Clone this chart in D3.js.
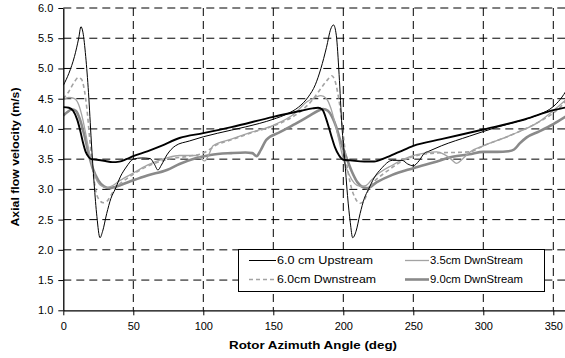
<!DOCTYPE html>
<html>
<head>
<meta charset="utf-8">
<script src="https://cdn.jsdelivr.net/npm/d3@7"></script>
<style>
  html, body { margin: 0; padding: 0; background: #fff; }
  svg { display: block; font-family: "Liberation Sans", Arial, sans-serif; }
</style>
</head>
<body>
<svg id="chart" width="565" height="358"></svg>
<script>
// Axial flow velocity vs rotor azimuth angle, several probe positions

const xTicks = [0, 50, 100, 150, 200, 250, 300, 350];
const yTicks = [1.0, 1.5, 2.0, 2.5, 3.0, 3.5, 4.0, 4.5, 5.0, 5.5, 6.0];

// 6.0 cm Upstream
const up60Deg = [0, 4, 8, 11, 12.6, 14, 16, 18, 20, 22, 24, 26.2, 28, 31, 34, 37, 41, 45, 50, 56, 62, 65, 67.6, 70, 74, 80, 90, 100, 120, 140, 150, 160, 168, 175, 180, 184, 188, 191, 193, 195, 197, 199, 201, 203, 205, 206.7, 209, 212, 215, 218, 222, 227, 235, 242, 246, 250, 254, 258, 261, 270, 290, 310, 330, 340, 350, 355, 360];
const up60Vel = [4.72, 4.92, 5.2, 5.5, 5.69, 5.6, 5.2, 4.6, 3.8, 3.1, 2.55, 2.2, 2.3, 2.6, 2.85, 3.0, 3.22, 3.37, 3.5, 3.52, 3.51, 3.42, 3.32, 3.4, 3.57, 3.72, 3.8, 3.87, 3.98, 4.09, 4.16, 4.25, 4.36, 4.53, 4.73, 5.0, 5.35, 5.65, 5.72, 5.55, 4.9, 4.05, 3.5, 2.9, 2.45, 2.2, 2.3, 2.6, 2.85, 3.0, 3.19, 3.34, 3.48, 3.48, 3.42, 3.39, 3.47, 3.6, 3.63, 3.72, 3.88, 4.03, 4.16, 4.24, 4.37, 4.49, 4.66];

// 6.0cm Dwnstream
const dn60Deg = [0, 4, 8, 10.7, 13, 15, 17, 19, 21, 23, 25, 28.6, 31, 34, 37, 42, 50, 60, 75, 90, 100, 110, 120, 135, 150, 160, 170, 178, 184, 189, 191.7, 194, 196, 198, 200, 202, 205, 208, 212, 215, 218, 223, 230, 247, 265, 290, 300, 320, 340, 350, 355, 360];
const dn60Vel = [4.5, 4.62, 4.78, 4.85, 4.82, 4.65, 4.3, 3.8, 3.35, 3.0, 2.85, 2.78, 2.8, 2.9, 3.02, 3.12, 3.25, 3.38, 3.5, 3.55, 3.6, 3.74, 3.82, 3.94, 4.05, 4.15, 4.3, 4.48, 4.67, 4.82, 4.88, 4.8, 4.6, 4.3, 3.9, 3.5, 3.1, 2.88, 2.77, 2.82, 3.0, 3.15, 3.28, 3.52, 3.6, 3.62, 3.72, 3.9, 4.12, 4.26, 4.36, 4.5];

// 3.5cm DwnStream
const dn35Deg = [0, 4, 8, 11, 14, 17, 20, 23, 27, 31, 35, 40, 50, 60, 74, 83, 95, 99, 101, 104, 107, 120, 135, 150, 165, 174, 180, 184, 188, 191, 194, 197, 200, 204, 208, 212, 216, 220, 224, 235, 247.6, 258, 266.7, 272, 277, 281, 285, 290.5, 300, 320, 340, 355, 360];
const dn35Vel = [4.48, 4.52, 4.5, 4.4, 4.15, 3.8, 3.45, 3.2, 3.06, 3.03, 3.06, 3.14, 3.27, 3.4, 3.52, 3.56, 3.56, 3.5, 3.47, 3.58, 3.72, 3.83, 3.95, 4.06, 4.25, 4.45, 4.52, 4.55, 4.5, 4.35, 4.1, 3.8, 3.5, 3.25, 3.1, 3.05, 3.06, 3.15, 3.24, 3.4, 3.54, 3.6, 3.62, 3.58, 3.5, 3.43, 3.5, 3.62, 3.72, 3.9, 4.12, 4.4, 4.5];

// 9.0cm DwnStream
const dn90Deg = [0, 3, 6, 9, 12, 15, 18, 21, 25, 29, 33, 37, 42, 50, 60, 74, 83, 95, 105, 120, 130, 135, 138, 141, 145, 155, 167, 176, 182, 185.7, 189, 192, 195, 198, 202, 206, 210, 213, 217, 224, 235, 250, 265, 278, 290, 300, 310, 318, 322, 326, 331, 340, 350, 360];
const dn90Vel = [4.22, 4.28, 4.32, 4.3, 4.15, 3.9, 3.6, 3.35, 3.15, 3.05, 3.02, 3.04, 3.08, 3.15, 3.23, 3.32, 3.42, 3.52, 3.57, 3.6, 3.61, 3.6, 3.55, 3.65, 3.82, 3.95, 4.1, 4.22, 4.3, 4.33, 4.3, 4.2, 4.03, 3.8, 3.54, 3.3, 3.12, 3.05, 3.02, 3.12, 3.24, 3.35, 3.45, 3.54, 3.58, 3.62, 3.62, 3.63, 3.66, 3.76, 3.86, 3.96, 4.08, 4.22];

// Additional trace (heavy black)
const refDeg = [0, 4, 7, 10, 12, 14, 16, 18, 20, 24, 30, 35, 40, 45, 50, 60, 70, 83, 100, 120, 150, 170, 178, 182, 185, 188, 191, 194, 197, 200, 205, 215, 222, 230, 240, 250, 270, 300, 330, 350, 360];
const refVel = [4.36, 4.35, 4.3, 4.15, 3.98, 3.78, 3.62, 3.54, 3.5, 3.49, 3.47, 3.45, 3.46, 3.5, 3.55, 3.63, 3.72, 3.85, 3.93, 4.03, 4.2, 4.3, 4.34, 4.35, 4.32, 4.15, 3.92, 3.7, 3.56, 3.49, 3.48, 3.46, 3.46, 3.52, 3.62, 3.72, 3.83, 3.99, 4.16, 4.31, 4.36];

const series = [
  { name: "9.0cm DwnStream", deg: dn90Deg, vel: dn90Vel, stroke: "#8a8a8a", width: 2.6, dash: null },
  { name: "3.5cm DwnStream", deg: dn35Deg, vel: dn35Vel, stroke: "#a3a3a3", width: 1.3, dash: null },
  { name: "6.0cm Dwnstream", deg: dn60Deg, vel: dn60Vel, stroke: "#a3a3a3", width: 1.6, dash: "4,3" },
  { name: "6.0 cm Upstream", deg: up60Deg, vel: up60Vel, stroke: "#000", width: 1.0, dash: null },
  { name: "", deg: refDeg, vel: refVel, stroke: "#000", width: 1.9, dash: null }
];

const svg = d3.select("#chart");
const x = d3.scaleLinear().domain([0, 360]).range([63.3, 567.3]);
const y = d3.scaleLinear().domain([1, 6]).range([310.3, 8]);

const plotLeft = x(0), plotRight = x(360), plotTop = y(6), plotBottom = y(1);

svg.append("defs").append("clipPath").attr("id", "plotClip")
  .append("rect").attr("x", plotLeft).attr("y", plotTop - 2)
  .attr("width", plotRight - plotLeft).attr("height", plotBottom - plotTop + 4);

// grid
const grid = svg.append("g");
grid.selectAll("line.h").data(yTicks.slice(1)).join("line")
  .attr("x1", plotLeft).attr("x2", plotRight)
  .attr("y1", d => y(d)).attr("y2", d => y(d))
  .attr("stroke", "#000").attr("stroke-width", 1).attr("stroke-dasharray", "8,5");
grid.selectAll("line.v").data(xTicks.slice(1)).join("line")
  .attr("x1", d => x(d)).attr("x2", d => x(d))
  .attr("y1", plotTop).attr("y2", plotBottom)
  .attr("stroke", "#000").attr("stroke-width", 1).attr("stroke-dasharray", "8,5");

// series
const line = d3.line().curve(d3.curveMonotoneX);
const lines = svg.append("g").attr("clip-path", "url(#plotClip)");
series.forEach(s => {
  const pts = s.deg.map((d, i) => [x(d), y(s.vel[i])]);
  lines.append("path")
    .attr("d", line(pts))
    .attr("fill", "none")
    .attr("stroke", s.stroke)
    .attr("stroke-width", s.width)
    .attr("stroke-dasharray", s.dash)
    .attr("stroke-linejoin", "round");
});

// axes
const xAxis = d3.axisBottom(x).tickValues(xTicks).tickSize(5).tickPadding(3).tickSizeOuter(0).tickFormat(d3.format("d"));
const yAxis = d3.axisLeft(y).tickValues(yTicks).tickSize(5).tickPadding(5).tickSizeOuter(0).tickFormat(d3.format(".1f"));

const gx = svg.append("g").attr("transform", `translate(0,${plotBottom})`).call(xAxis);
const gy = svg.append("g").attr("transform", `translate(${plotLeft},0)`).call(yAxis);
[gx, gy].forEach(g => {
  g.select(".domain").attr("stroke", "#000").attr("stroke-width", 1.3);
  g.selectAll(".tick line").attr("stroke", "#000");
  g.selectAll("text").attr("font-size", 11).attr("fill", "#000")
    .attr("font-family", "Liberation Sans, Arial, sans-serif");
});
gx.selectAll("text").attr("dy", "1.05em");

// axis titles
svg.append("text")
  .attr("x", 313).attr("y", 349)
  .attr("text-anchor", "middle").attr("font-size", 10.5).attr("font-weight", "bold")
  .attr("textLength", 168).attr("lengthAdjust", "spacingAndGlyphs")
  .text("Rotor Azimuth Angle (deg)");
svg.append("text")
  .attr("transform", "translate(19,157) rotate(-90)")
  .attr("text-anchor", "middle").attr("font-size", 10.5).attr("font-weight", "bold")
  .attr("textLength", 139).attr("lengthAdjust", "spacingAndGlyphs")
  .text("Axial flow velocity (m/s)");

// legend
const legend = svg.append("g");
legend.append("rect")
  .attr("x", 238.5).attr("y", 249.5).attr("width", 306).attr("height", 42)
  .attr("fill", "#fff").attr("stroke", "#000").attr("stroke-width", 1);

const legendItems = [
  { s: series[3], lx: 249, tx: 277, ly: 260.5, len: 96 },
  { s: series[2], lx: 249, tx: 277, ly: 279.5, len: 99 },
  { s: series[1], lx: 405, tx: 430, ly: 260.5, len: 93 },
  { s: series[0], lx: 405, tx: 430, ly: 279.5, len: 93 }
];
legendItems.forEach(it => {
  legend.append("line")
    .attr("x1", it.lx).attr("x2", it.tx - 1)
    .attr("y1", it.ly).attr("y2", it.ly)
    .attr("stroke", it.s.stroke).attr("stroke-width", it.s.width)
    .attr("stroke-dasharray", it.s.dash);
  legend.append("text")
    .attr("x", it.tx).attr("y", it.ly + 3.8)
    .attr("font-size", 11)
    .attr("textLength", it.len).attr("lengthAdjust", "spacingAndGlyphs")
    .text(it.s.name);
});
</script>
</body>
</html>
